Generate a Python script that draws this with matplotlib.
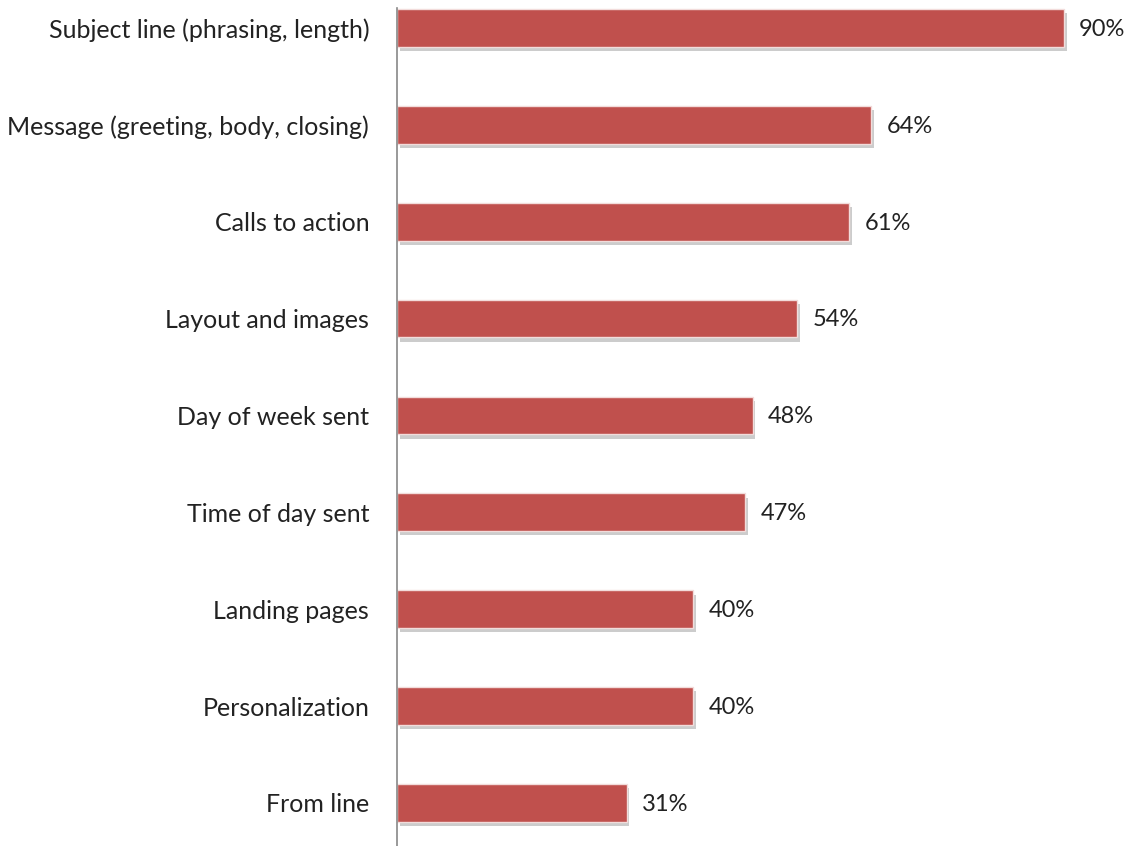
import matplotlib.pyplot as plt
import matplotlib.patheffects as pe

categories = [
    "Subject line (phrasing, length)",
    "Message (greeting, body, closing)",
    "Calls to action",
    "Layout and images",
    "Day of week sent",
    "Time of day sent",
    "Landing pages",
    "Personalization",
    "From line",
]
values = [90, 64, 61, 54, 48, 47, 40, 40, 31]

plt.rcParams['font.family'] = ['Lato', 'DejaVu Sans']

fig = plt.figure(figsize=(11.34, 8.46), dpi=100)
W, H = 1134, 846
ax = fig.add_axes([397 / W, 0, 1 - 397 / W, (846 - 8) / H])

bars = ax.barh(range(len(categories)), values, height=0.39, color="#C0504D",
               edgecolor="#F2DCDB", linewidth=1.0)
for b in bars:
    b.set_path_effects([pe.SimplePatchShadow(offset=(2, -3), shadow_rgbFace="#000000", alpha=0.2),
                        pe.Normal()])

for i, v in enumerate(values):
    ax.annotate(f"{v}%", xy=(v, i), xytext=(11, -1), textcoords="offset points",
                va="center", ha="left", fontsize=17, color="#222222")

ax.set_xlim(0, (W - 397) / 7.41)
ax.set_ylim(8.444, -0.206)
ax.set_yticks(range(len(categories)))
ax.set_yticklabels(categories, fontsize=18, color="#222222")
ax.tick_params(axis="y", length=0, pad=20)
ax.set_xticks([])
for s in ["top", "right", "bottom"]:
    ax.spines[s].set_visible(False)
ax.spines["left"].set_color("#888888")
ax.spines["left"].set_linewidth(1.2)

fig.savefig("out.png", dpi=100)
